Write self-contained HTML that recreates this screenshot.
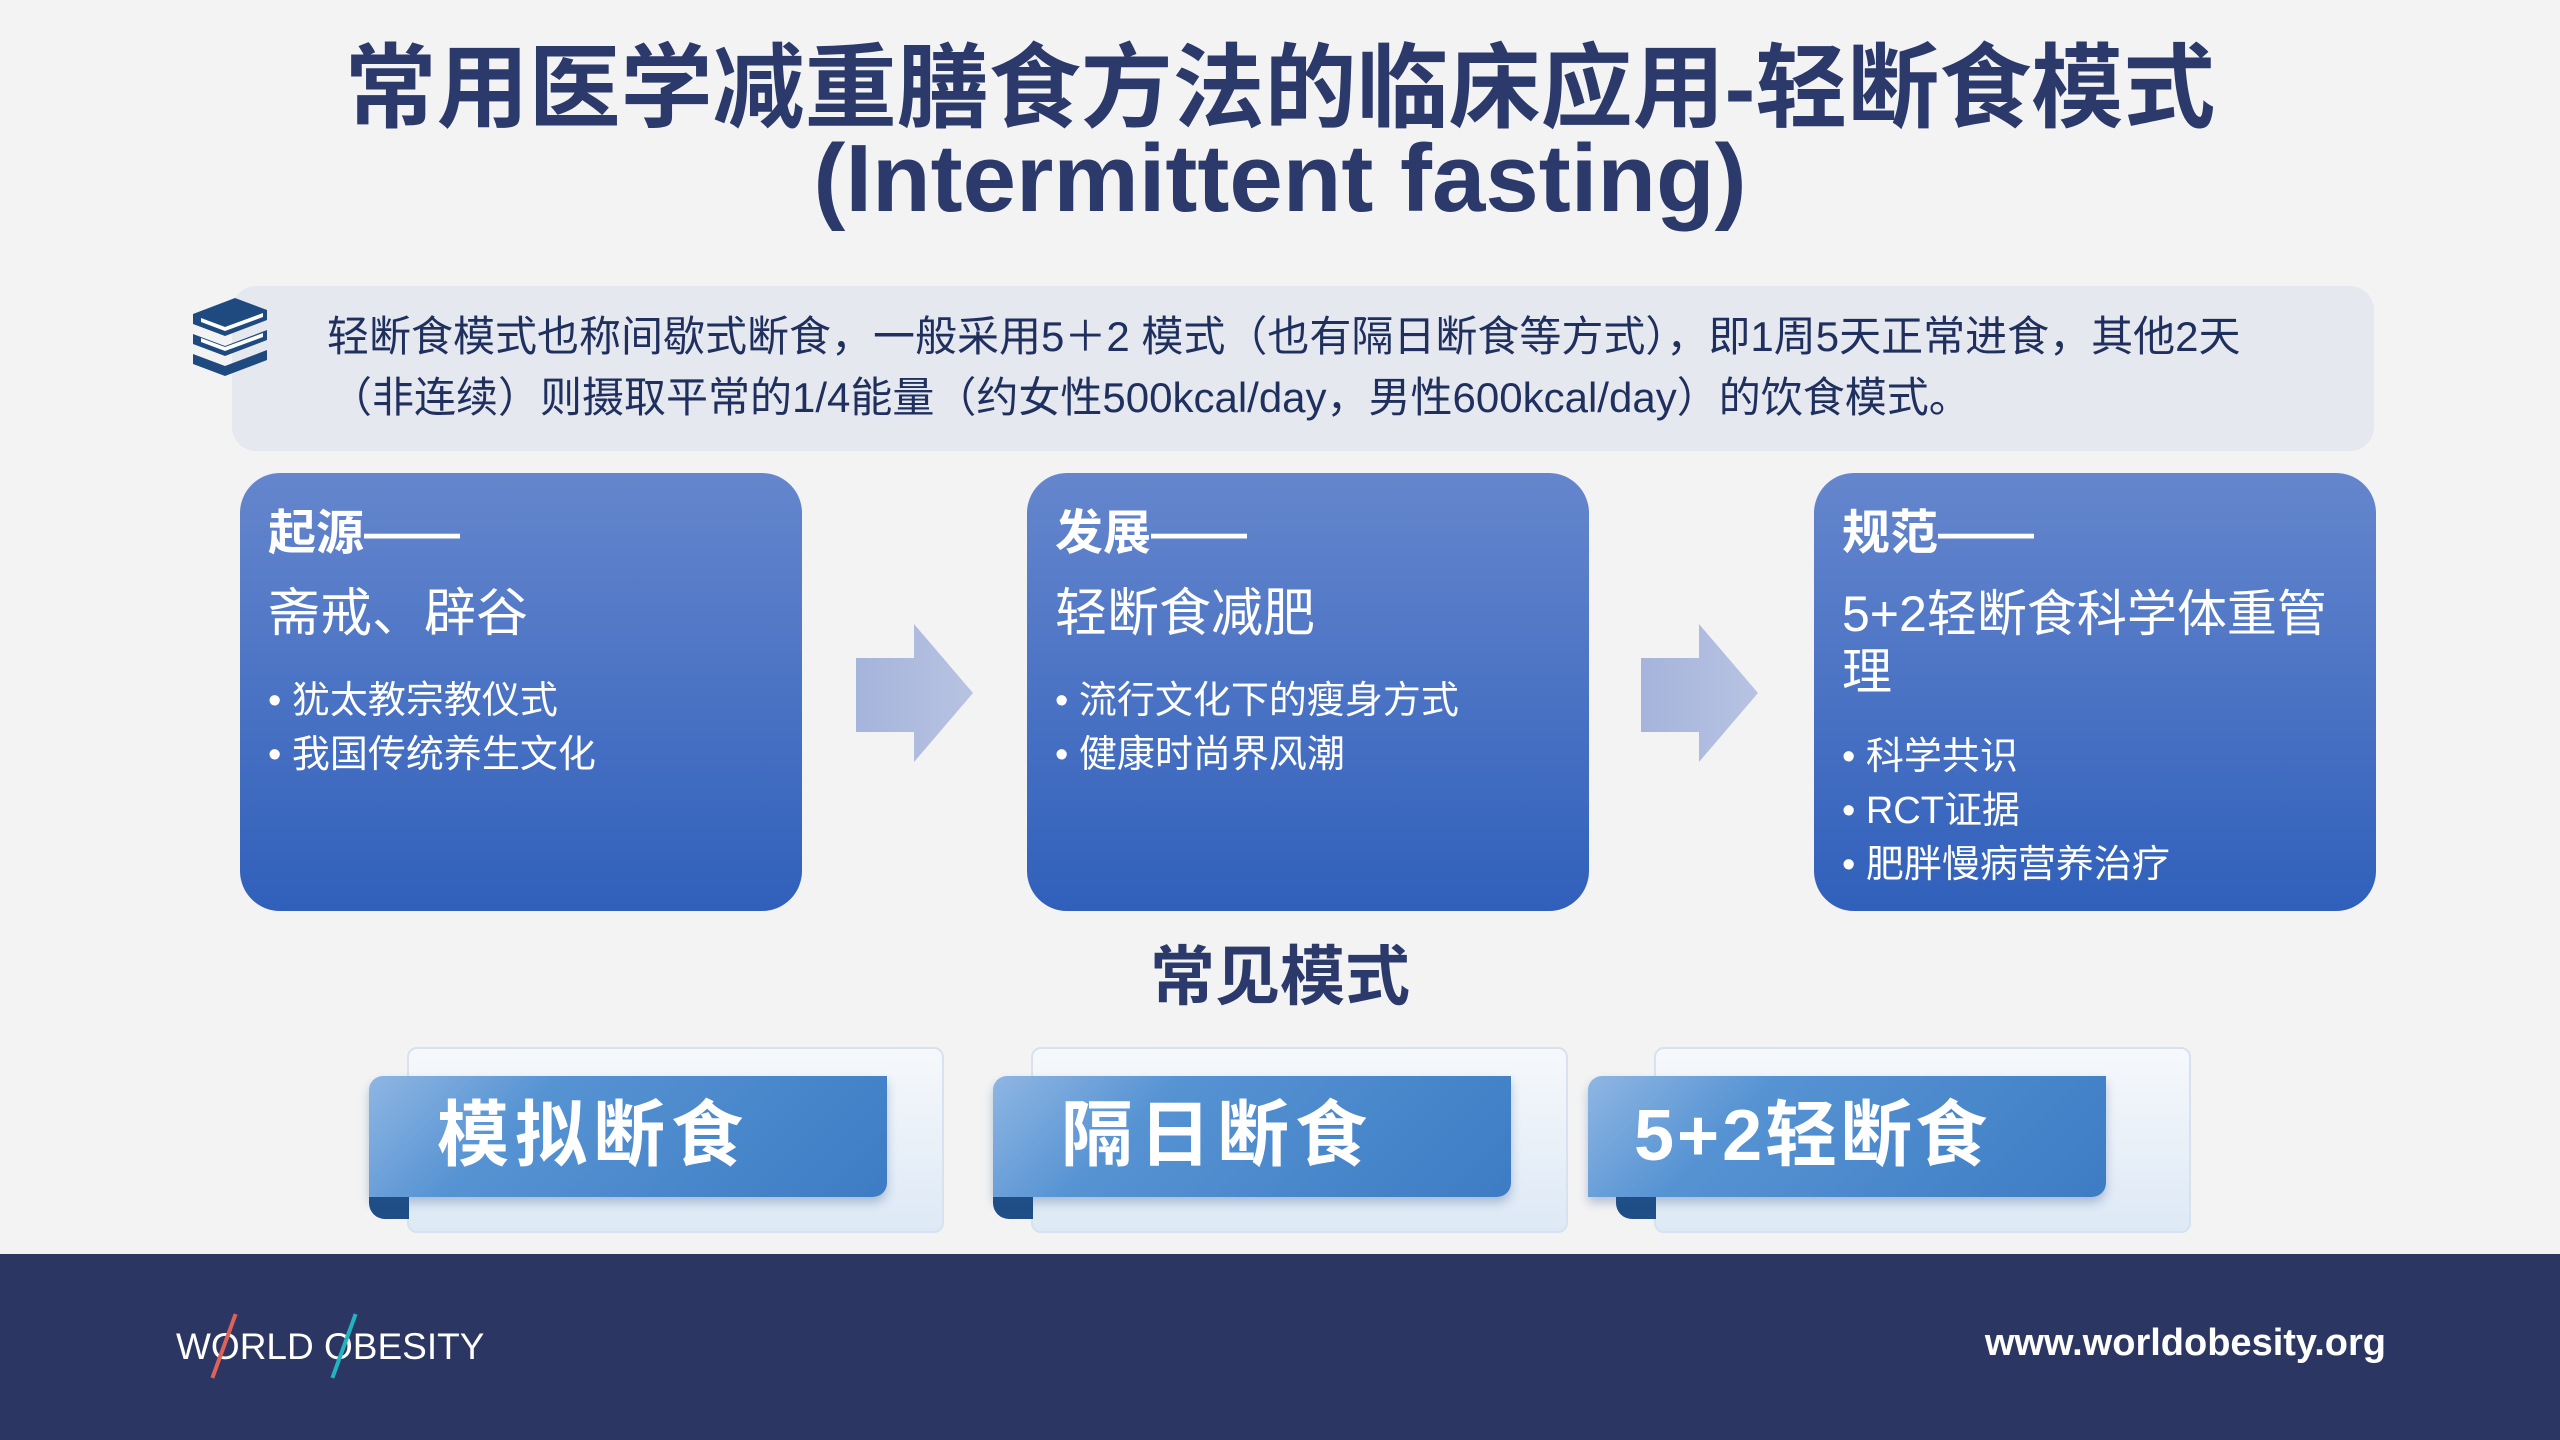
<!DOCTYPE html>
<html><head><meta charset="utf-8"><style>
*{margin:0;padding:0;box-sizing:border-box}
body{width:2560px;height:1440px;background:#f3f3f4;position:relative;overflow:hidden;font-family:"Liberation Sans","Noto Sans CJK SC",sans-serif}
.a{position:absolute}
.title{left:0;width:2560px;text-align:center;color:#2b3a6b;font-weight:bold;white-space:nowrap}
.info{left:232px;top:286px;width:2142px;height:165px;background:#e5e8ef;border-radius:24px}
.itxt{color:#1f2f5e;font-size:42px;white-space:nowrap}
.card{top:473px;width:562px;height:438px;border-radius:40px;background:linear-gradient(#6586cd,#3060bb);color:#fff}
.card .h{position:absolute;left:28px;top:20px;font-size:48px;font-weight:bold}
.card .s{position:absolute;left:28px;top:112px;font-size:52px;line-height:58px;width:520px}
.card .b{position:absolute;left:28px;font-size:38px;white-space:nowrap}
.back{top:1047px;width:537px;height:186px;border-radius:10px;background:linear-gradient(#f6f8fb,#dde9f6);border:2px solid #d6e2f0}
.rib{top:1076px;width:518px;height:121px;border-radius:14px 0 14px 0;background:linear-gradient(135deg,#8fb6e3 0%,#5693d3 30%,#3d7cc4 100%);color:#fff;font-weight:bold;font-size:72px;padding-left:68px;line-height:121px;letter-spacing:6px;box-shadow:0 6px 10px rgba(40,80,140,.3)}
.curl{top:1193px;width:40px;height:26px;background:#1f4f86;border-radius:0 0 0 16px}
</style></head><body>
<div class="a title" style="top:14px;font-size:92px">常用医学减重膳食方法的临床应用-轻断食模式</div>
<div class="a title" style="top:124px;font-size:96px">(Intermittent fasting)</div>
<div class="a info"></div>
<svg class="a" style="left:189px;top:296px" width="82" height="80" viewBox="0 0 82 80">
<g fill="#1f4a80"><path d="M4 18 L46 2 L78 14 L78 24 L36 40 L4 28Z"/><path d="M4 38 L36 50 L78 34 L78 44 L36 60 L4 48Z"/><path d="M4 58 L36 70 L78 54 L78 64 L36 80 L4 68Z"/></g>
<g fill="#fff"><path d="M12 22 L36 31 L74 17 L74 21 L36 35 L12 26Z"/><path d="M12 42 L36 51 L74 37 L74 41 L36 55 L12 46Z"/></g></svg>
<div class="a itxt" style="left:327px;top:303px">轻断食模式也称间歇式断食，一般采用5＋2 模式（也有隔日断食等方式），即1周5天正常进食，其他2天</div>
<div class="a itxt" style="left:330px;top:364px">（非连续）则摄取平常的1/4能量（约女性500kcal/day，男性600kcal/day）的饮食模式。</div>

<div class="a card" style="left:240px"><div class="h">起源——</div><div class="s">斋戒、辟谷</div><div class="b" style="top:196px">• 犹太教宗教仪式</div><div class="b" style="top:250px">• 我国传统养生文化</div></div>
<div class="a card" style="left:1027px"><div class="h">发展——</div><div class="s">轻断食减肥</div><div class="b" style="top:196px">• 流行文化下的瘦身方式</div><div class="b" style="top:250px">• 健康时尚界风潮</div></div>
<div class="a card" style="left:1814px"><div class="h">规范——</div><div class="s" style="font-size:50px">5+2轻断食科学体重管理</div><div class="b" style="top:252px">• 科学共识</div><div class="b" style="top:306px">• RCT证据</div><div class="b" style="top:360px">• 肥胖慢病营养治疗</div></div>

<svg class="a" style="left:856px;top:624px" width="118" height="138"><defs><linearGradient id="g" x1="0" x2="1"><stop offset="0" stop-color="#a5b4dc"/><stop offset="1" stop-color="#b8c3e2"/></linearGradient></defs><path d="M0 34 H58 V0 L117 69 L58 138 V108 H0Z" fill="url(#g)"/></svg>
<svg class="a" style="left:1641px;top:624px" width="118" height="138"><path d="M0 34 H58 V0 L117 69 L58 138 V108 H0Z" fill="url(#g)"/></svg>

<div class="a title" style="top:924px;font-size:65px">常见模式</div>

<div class="a back" style="left:407px"></div><div class="a curl" style="left:369px"></div><div class="a rib" style="left:369px">模拟断食</div>
<div class="a back" style="left:1031px"></div><div class="a curl" style="left:993px"></div><div class="a rib" style="left:993px">隔日断食</div>
<div class="a back" style="left:1654px"></div><div class="a curl" style="left:1616px"></div><div class="a rib" style="left:1588px;padding-left:46px;letter-spacing:3px">5+2轻断食</div>

<div class="a" style="left:0;top:1254px;width:2560px;height:186px;background:#2b3662"></div>
<div class="a" style="left:176px;top:1326px;color:#fff;font-size:37px;white-space:nowrap">WORLD OBESITY</div>
<div class="a" style="left:222px;top:1312px;width:4px;height:68px;background:#e0605a;transform:rotate(20deg)"></div>
<div class="a" style="left:342px;top:1312px;width:4px;height:68px;background:#22b3c0;transform:rotate(20deg)"></div>
<div class="a" style="right:174px;top:1322px;color:#fff;font-size:38px;font-weight:bold;white-space:nowrap">www.worldobesity.org</div>
</body></html>
